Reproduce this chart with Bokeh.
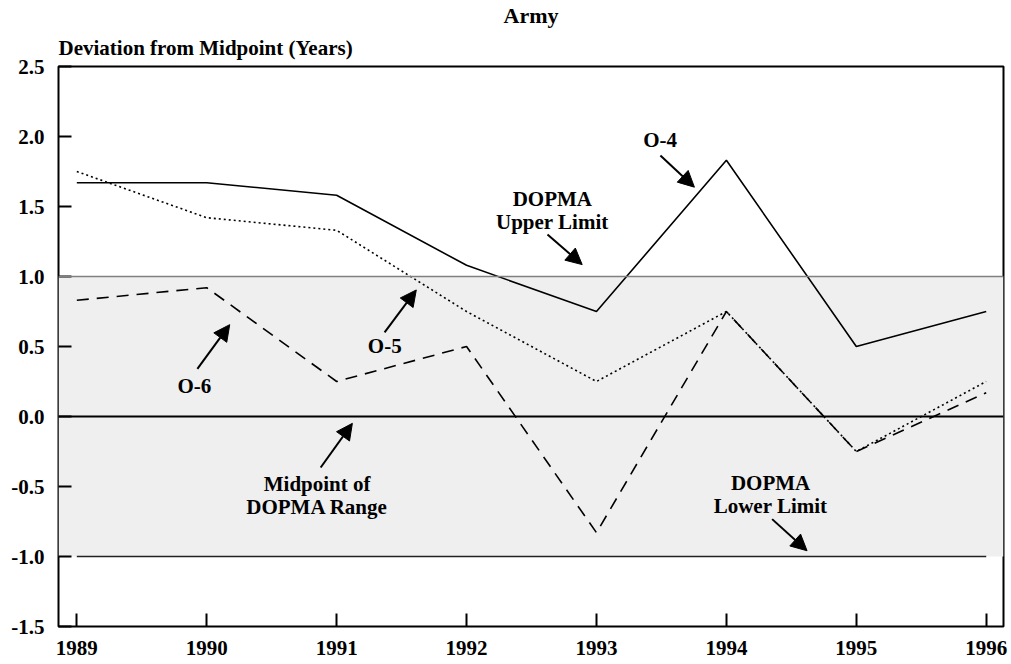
from bokeh.plotting import figure
from bokeh.models import Range1d, FixedTicker, Span, BoxAnnotation, Arrow, NormalHead, Title
from bokeh.core.properties import value
from bokeh.embed import file_html
from bokeh.resources import INLINE

# ---- data ----
years = [1989, 1990, 1991, 1992, 1993, 1994, 1995, 1996]
o4 = [1.67, 1.67, 1.58, 1.08, 0.75, 1.83, 0.50, 0.75]
o5 = [1.75, 1.42, 1.33, 0.75, 0.25, 0.75, -0.25, 0.25]
o6 = [0.83, 0.92, 0.25, 0.50, -0.83, 0.75, -0.25, 0.17]
upper_limit = 1.0
midpoint = 0.0
lower_limit = -1.0
y_ticks = [-1.5, -1.0, -0.5, 0.0, 0.5, 1.0, 1.5, 2.0, 2.5]
y_tick_labels = ["-1.5", "-1.0", "-0.5", "0.0", "0.5", "1.0", "1.5", "2.0", "2.5"]
x_tick_labels = [str(y) for y in years]

# annotation texts, positions (data units) and arrows (start -> end)
notes = [
    ("O-4", 1993.49, 1.972),
    ("DOPMA\nUpper Limit", 1992.66, 1.471),
    ("O-5", 1991.37, 0.506),
    ("O-6", 1989.905, 0.220),
    ("Midpoint of\nDOPMA Range", 1990.85, -0.566),
    ("DOPMA\nLower Limit", 1994.34, -0.559),
]
arrows = [
    (1993.492, 1.864, 1993.754, 1.638),
    (1992.623, 1.300, 1992.890, 1.085),
    (1991.369, 0.601, 1991.613, 0.904),
    (1989.928, 0.340, 1990.177, 0.656),
    (1990.877, -0.364, 1991.121, -0.049),
    (1994.352, -0.733, 1994.621, -0.959),
]

FONT = "Liberation Serif"

p = figure(width=1011, height=664, output_backend="svg", toolbar_location=None,
           x_range=Range1d(1988.859, 1996.133), y_range=Range1d(-1.5, 2.5),
           min_border_left=58, min_border_right=8, min_border_bottom=38, min_border_top=66,
           title=None)
p.background_fill_color = "white"
p.border_fill_color = "white"
p.outline_line_color = "black"
p.outline_line_width = 2
p.xgrid.visible = False
p.ygrid.visible = False

# titles
sub = Title(text="Deviation from Midpoint (Years)", align="left", text_font=FONT,
            text_font_size="21px", text_font_style="bold", text_color="black", standoff=13)
p.add_layout(sub, "above")
main = Title(text="Army", align="center", text_font=FONT, text_font_size="22px",
             text_font_style="bold", text_color="black", standoff=0)
p.add_layout(main, "above")

# DOPMA band
p.add_layout(BoxAnnotation(bottom=lower_limit, top=upper_limit, fill_color="#efefef",
                           fill_alpha=1.0, line_alpha=0, level="underlay"))
p.add_layout(Span(location=upper_limit, dimension="width", line_color="#808080", line_width=1.5))
p.add_layout(Span(location=midpoint, dimension="width", line_color="black", line_width=2))
p.line([years[0], years[-1]], [lower_limit, lower_limit], line_color="#222222", line_width=1.5)

# series
p.line(years, o4, line_color="black", line_width=1.6)
p.line(years, o5, line_color="black", line_width=1.6, line_dash="2 3")
p.line(years, o6, line_color="black", line_width=1.6, line_dash="12 8")

# annotation texts
for t, x, y in notes:
    p.text(x=[x], y=[y], text=[t], text_font=value(FONT), text_font_size="21px",
           text_font_style="bold", text_color="black", text_align="center",
           text_baseline="middle", text_line_height=0.95)

for x0, y0, x1, y1 in arrows:
    p.add_layout(Arrow(x_start=x0, y_start=y0, x_end=x1, y_end=y1,
                       line_color="black", line_width=2,
                       end=NormalHead(size=16, fill_color="black", line_color="black")))

# axes
for ax in (p.xaxis[0], p.yaxis[0]):
    ax.axis_line_color = None
    ax.major_tick_in = 13
    ax.major_tick_out = 0
    ax.major_tick_line_width = 2
    ax.major_tick_line_color = "black"
    ax.minor_tick_line_color = None
    ax.major_label_text_font = FONT
    ax.major_label_text_font_size = "21px"
    ax.major_label_text_font_style = "bold"
    ax.major_label_text_color = "black"

p.xaxis.ticker = FixedTicker(ticks=years)
p.xaxis.major_label_overrides = {y: l for y, l in zip(years, x_tick_labels)}
p.xaxis.major_label_standoff = 14
p.yaxis.ticker = FixedTicker(ticks=y_ticks)
p.yaxis.major_label_overrides = {t: l for t, l in zip(y_ticks, y_tick_labels)}
p.yaxis.major_label_standoff = 14

open("out.html", "w").write(file_html(p, INLINE))
